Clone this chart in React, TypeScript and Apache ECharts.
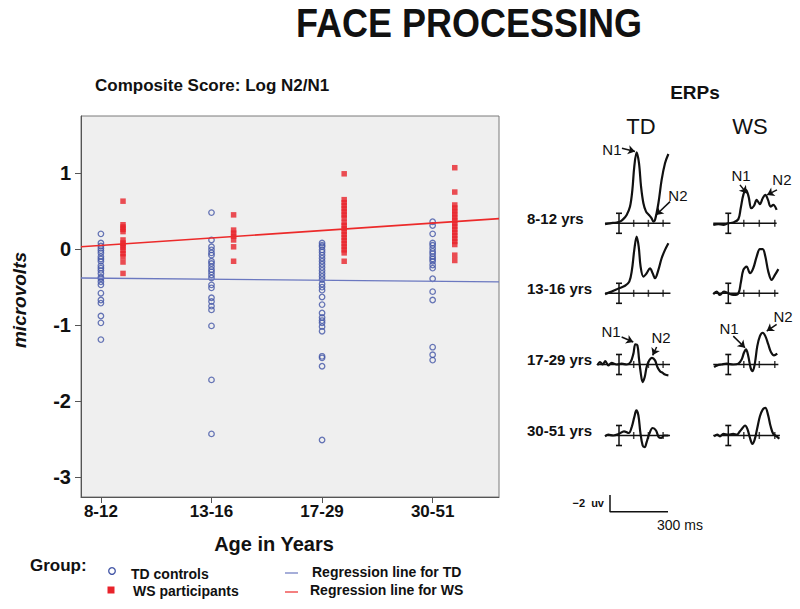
import React, { useEffect, useRef } from 'react';
import * as echarts from 'echarts';

// ---------- Scatter data (Composite Score: Log N2/N1) ----------
const AGE_GROUPS = ['8-12', '13-16', '17-29', '30-51'];
const Y_TICKS = [-3, -2, -1, 0, 1];
const X_TICKS = [1, 2, 3, 4];

const TD_8_12 = [0.2, 0.08, 0.04, 0.01, -0.02, -0.05, -0.1, -0.13, -0.16, -0.22, -0.25, -0.28, -0.32, -0.37, -0.39, -0.43, -0.47, -0.58, -0.67, -0.71, -0.88, -0.97, -1.19];
const TD_13_16 = [0.48, 0.12, 0.03, -0.01, -0.05, -0.08, -0.16, -0.19, -0.23, -0.27, -0.3, -0.34, -0.38, -0.47, -0.51, -0.64, -0.69, -0.75, -0.8, -1.01, -1.72, -2.43];
const TD_17_29 = [0.08, 0.05, 0.03, -0.01, -0.04, -0.08, -0.12, -0.16, -0.2, -0.24, -0.28, -0.32, -0.36, -0.4, -0.46, -0.5, -0.54, -0.63, -0.73, -0.84, -0.9, -0.94, -0.97, -1.02, -1.08, -1.41, -1.43, -1.54, -2.51];
const TD_30_51 = [0.36, 0.31, 0.2, 0.08, 0.05, 0.01, -0.03, -0.06, -0.1, -0.13, -0.16, -0.21, -0.25, -0.39, -0.56, -0.67, -1.29, -1.39, -1.46];

const WS_8_12 = [0.63, 0.32, 0.29, 0.26, 0.23, 0.12, 0.08, 0.05, 0.02, -0.02, -0.06, -0.1, -0.17, -0.32];
const WS_13_16 = [0.45, 0.25, 0.21, 0.17, 0.12, 0.03, -0.16];
const WS_17_29 = [0.99, 0.65, 0.61, 0.57, 0.53, 0.49, 0.45, 0.41, 0.35, 0.31, 0.27, 0.23, 0.19, 0.15, 0.11, 0.07, 0.03, -0.01, -0.05, -0.16];
const WS_30_51 = [1.07, 0.75, 0.58, 0.54, 0.5, 0.46, 0.42, 0.38, 0.34, 0.3, 0.26, 0.22, 0.18, 0.14, 0.1, 0.06, -0.08, -0.15];

const TD_SCORES = [TD_8_12, TD_13_16, TD_17_29, TD_30_51];
const WS_SCORES = [WS_8_12, WS_13_16, WS_17_29, WS_30_51];

// regression lines (value at left and right edge of the plot)
const REG_X = [0.82, 4.6];
const REG_TD = [-0.38, -0.43];
const REG_WS = [0.03, 0.4];

// ---------- ERP waveforms: [ms, µV] (negative plotted up) ----------
const ERP_ROWS = ['8-12 yrs', '13-16 yrs', '17-29 yrs', '30-51 yrs'];
const ERP_TICKS_MS = [100, 200, 300];
const ONSET_BAR_UV = 1.2;
const CAL_UV = 2;
const CAL_MS = 300;

const TD_WAVE_8_12 = [[-95, 0.1], [-61, 0], [-16, -0.1], [7, -0.2], [29, -0.5], [52, -1.0], [75, -2.0], [91, -4.0], [104, -6.8], [120, -8.5], [136, -7.2], [150, -4.4], [166, -2.4], [184, -1.4], [204, -1.0], [222, -0.6], [234, -0.2], [245, -0.4], [268, -2.4], [290, -5.2], [313, -7.2], [336, -8.3]];
const TD_WAVE_13_16 = [[-95, 0.1], [-50, -0.2], [0, -0.6], [41, -0.9], [70, -1.4], [88, -2.8], [104, -5.2], [120, -6.8], [134, -5.6], [147, -3.2], [166, -2.0], [188, -2.4], [211, -3.0], [229, -2.4], [245, -1.8], [268, -2.8], [290, -4.2], [313, -5.2], [336, -6.0]];
const TD_WAVE_17_29 = [[-147, 0.1], [-129, -0.3], [-111, 0], [-93, -0.4], [-73, 0.1], [-50, -0.2], [-16, 0], [18, -0.1], [52, 0], [79, -0.3], [98, -1.3], [111, -2.4], [125, -2.3], [136, -0.7], [147, 0.9], [161, 2.1], [175, 1.5], [188, 0.3], [206, -0.5], [224, -0.8], [245, -0.5], [261, 0.3], [279, 0.8], [297, 1.0], [313, 1.2], [336, 1.3]];
const TD_WAVE_30_51 = [[-95, 0.1], [-73, -0.1], [-39, 0], [0, -0.2], [34, -0.5], [66, -0.3], [88, -1.1], [104, -2.2], [118, -3.0], [132, -2.4], [145, -0.4], [161, 1.2], [175, 1.4], [188, 0.8], [206, -0.2], [229, -0.9], [252, -0.6], [270, 0.2], [288, 0.3], [306, 0], [336, 0]];

const WS_WAVE_8_12 = [[-97, 0.2], [-65, 0.1], [-32, 0.2], [0, 0], [32, -0.1], [65, -0.5], [80, -1.8], [97, -3.4], [114, -4.0], [131, -3.2], [148, -1.8], [166, -2.1], [183, -2.8], [204, -2.3], [222, -3.0], [239, -3.4], [256, -2.8], [273, -2.0], [290, -2.2], [312, -1.6]];
const WS_WAVE_13_16 = [[-97, 0.1], [-75, -0.2], [-54, 0.2], [-28, -0.2], [0, 0], [32, 0.2], [65, 0], [80, -1.2], [97, -2.8], [118, -3.2], [140, -2.4], [161, -3.0], [183, -4.4], [204, -5.3], [222, -5.3], [239, -4.4], [258, -2.6], [280, -1.6], [301, -2.2], [323, -2.9]];
const WS_WAVE_17_29 = [[-92, 0.3], [-71, 0.1], [-43, 0], [-11, -0.1], [32, 0], [65, -0.1], [86, -0.6], [101, -1.4], [114, -1.8], [129, -1.0], [144, 0.4], [157, 0.8], [172, -0.2], [187, -2.2], [204, -3.4], [222, -3.8], [239, -3.4], [258, -2.4], [275, -1.5], [295, -1.1], [316, -1.3]];
const WS_WAVE_30_51 = [[-92, 0.1], [-71, -0.1], [-54, 0.1], [-32, -0.2], [0, -0.1], [32, -0.2], [54, -0.1], [75, -0.5], [92, -0.9], [108, -1.2], [123, -0.8], [140, 0.3], [155, 1.0], [170, 0.5], [187, -0.9], [204, -2.3], [222, -3.1], [239, -3.3], [256, -2.5], [273, -1.1], [290, -0.2], [312, 0.1], [329, 0.4]];

const TD_WAVES = [TD_WAVE_8_12, TD_WAVE_13_16, TD_WAVE_17_29, TD_WAVE_30_51];
const WS_WAVES = [WS_WAVE_8_12, WS_WAVE_13_16, WS_WAVE_17_29, WS_WAVE_30_51];

// baseline time extents per panel
const TD_BASE_MS = [[-95, 350], [-95, 350], [-150, 347], [-95, 347]];
const WS_BASE_MS = [[-97, 312], [-97, 323], [-97, 323], [-97, 333]];

// N1 / N2 annotations: label point, arrow from -> to  ([ms, µV])
const TD_ANNOT = [
  [
    { label: 'N1', at: [-48, -8.8], from: [20, -9.0], to: [109, -8.6] },
    { label: 'N2', at: [401, -3.3], from: [347, -2.6], to: [252, -1.0] },
  ],
  [],
  [
    { label: 'N1', at: [-54, -4.0], from: [18, -3.3], to: [97, -2.7] },
    { label: 'N2', at: [286, -3.2], from: [256, -2.1], to: [229, -1.1] },
  ],
  [],
];
const WS_ANNOT = [
  [
    { label: 'N1', at: [82, -5.7], from: [75, -4.6], to: [119, -3.6] },
    { label: 'N2', at: [346, -5.3], from: [314, -4.0], to: [250, -3.4] },
  ],
  [],
  [
    { label: 'N1', at: [5, -4.3], from: [32, -3.4], to: [108, -2.0] },
    { label: 'N2', at: [353, -5.7], from: [312, -4.8], to: [248, -4.0] },
  ],
  [],
];

// ---------- Layout / style ----------
const FONT = '"Liberation Sans", Arial, Helvetica, sans-serif';
const BLUE = '#4255a6';
const RED = '#e8232b';
const BLUE_LINE = '#6b78c0';
const RED_LINE = '#ec2a2a';
const INK = '#111';
const WS_OFFSET = 0.2;

const ERP = {
  onsetX: [619, 728.3],
  pxPerMs: [0.147, 0.155],
  pxPerUv: 8.35,
  baselineY: [223.3, 293.3, 364.5, 435.5],
  tRange: [-200, 450],
  uvRange: [-10, 3],
};

function buildOption() {
  const grids: any[] = [
    {
      left: 81, top: 116, width: 418, height: 381,
      show: true, backgroundColor: '#efefef', borderColor: '#7a7a7a', borderWidth: 1,
    },
  ];
  const xAxes: any[] = [
    {
      gridIndex: 0, type: 'value', min: REG_X[0], max: REG_X[1],
      axisLine: { show: true, onZero: false, lineStyle: { color: '#555', width: 1 } },
      axisTick: { show: true, customValues: X_TICKS, length: 6, lineStyle: { color: '#555' } },
      axisLabel: {
        customValues: X_TICKS, formatter: (v: number) => AGE_GROUPS[Math.round(v) - 1],
        fontSize: 17, fontWeight: 'bold', color: INK, fontFamily: FONT, margin: 6,
      },
      splitLine: { show: false },
    },
  ];
  const yAxes: any[] = [
    {
      gridIndex: 0, type: 'value', min: -3.26, max: 1.75,
      axisLine: { show: true, lineStyle: { color: '#555', width: 1 } },
      axisTick: { show: true, customValues: Y_TICKS, length: 6, lineStyle: { color: '#555' } },
      axisLabel: {
        customValues: Y_TICKS, fontSize: 20, fontWeight: 'bold', color: INK, fontFamily: FONT, margin: 10,
      },
      splitLine: { show: false },
    },
  ];

  const tdPoints: number[][] = [];
  TD_SCORES.forEach((vals, i) => vals.forEach((v) => tdPoints.push([X_TICKS[i], v])));
  const wsPoints: number[][] = [];
  WS_SCORES.forEach((vals, i) => vals.forEach((v) => wsPoints.push([X_TICKS[i] + WS_OFFSET, v])));

  const series: any[] = [
    {
      type: 'scatter', name: 'TD controls', xAxisIndex: 0, yAxisIndex: 0, data: tdPoints,
      symbol: 'circle', symbolSize: 5.5,
      itemStyle: { color: 'rgba(0,0,0,0)', borderColor: BLUE, borderWidth: 1.3 },
    },
    {
      type: 'scatter', name: 'WS participants', xAxisIndex: 0, yAxisIndex: 0, data: wsPoints,
      symbol: 'rect', symbolSize: 5.5, itemStyle: { color: RED },
    },
    {
      type: 'line', name: 'Regression line for TD', xAxisIndex: 0, yAxisIndex: 0,
      data: REG_X.map((x, i) => [x, REG_TD[i]]), symbol: 'none',
      lineStyle: { color: BLUE_LINE, width: 1.3 },
    },
    {
      type: 'line', name: 'Regression line for WS', xAxisIndex: 0, yAxisIndex: 0,
      data: REG_X.map((x, i) => [x, REG_WS[i]]), symbol: 'none',
      lineStyle: { color: RED_LINE, width: 1.6 },
    },
  ];

  const addPanel = (col: number, row: number, wave: number[][], base: number[], annots: any[]) => {
    const idx = grids.length;
    const ppm = ERP.pxPerMs[col];
    const onset = ERP.onsetX[col];
    const by = ERP.baselineY[row];
    grids.push({
      left: onset + ERP.tRange[0] * ppm,
      width: (ERP.tRange[1] - ERP.tRange[0]) * ppm,
      top: by + ERP.uvRange[0] * ERP.pxPerUv,
      height: (ERP.uvRange[1] - ERP.uvRange[0]) * ERP.pxPerUv,
    });
    xAxes.push({ gridIndex: idx, type: 'value', min: ERP.tRange[0], max: ERP.tRange[1], show: false });
    yAxes.push({ gridIndex: idx, type: 'value', min: ERP.uvRange[0], max: ERP.uvRange[1], inverse: true, show: false });
    series.push({
      type: 'line', xAxisIndex: idx, yAxisIndex: idx, data: [[base[0], 0], [base[1], 0]],
      symbol: 'none', lineStyle: { color: INK, width: 1.5 }, silent: true,
    });
    series.push({
      type: 'scatter', xAxisIndex: idx, yAxisIndex: idx, data: ERP_TICKS_MS.map((t) => [t, 0]),
      symbol: 'rect', symbolSize: [1.5, 7], itemStyle: { color: INK }, silent: true,
    });
    series.push({
      type: 'line', xAxisIndex: idx, yAxisIndex: idx, data: [[0, -ONSET_BAR_UV], [0, ONSET_BAR_UV]],
      symbol: 'rect', symbolSize: [6, 1.6], showSymbol: true,
      itemStyle: { color: INK }, lineStyle: { color: INK, width: 1.5 }, silent: true,
    });
    series.push({
      type: 'line', xAxisIndex: idx, yAxisIndex: idx, data: wave, symbol: 'none', smooth: 0.35,
      lineStyle: { color: INK, width: 2.2 }, clip: false, silent: true,
      markLine: annots.length ? {
        silent: true, symbol: ['none', 'arrow'], symbolSize: 7,
        lineStyle: { color: INK, width: 1.5, type: 'solid' }, label: { show: false },
        data: annots.map((a) => [{ coord: a.from }, { coord: a.to }]),
      } : undefined,
      markPoint: annots.length ? {
        silent: true, symbol: 'circle', symbolSize: 1, itemStyle: { color: 'rgba(0,0,0,0)' },
        label: { show: true, position: 'inside', formatter: (p: any) => p.name, fontSize: 15, color: INK, fontFamily: FONT },
        data: annots.map((a) => ({ name: a.label, coord: a.at })),
      } : undefined,
    });
  };

  for (let r = 0; r < 4; r++) {
    addPanel(0, r, TD_WAVES[r], TD_BASE_MS[r], TD_ANNOT[r]);
    addPanel(1, r, WS_WAVES[r], WS_BASE_MS[r], WS_ANNOT[r]);
  }

  // calibration bar
  const calIdx = grids.length;
  grids.push({ left: 610, top: 495, width: 58, height: 16.7 });
  xAxes.push({ gridIndex: calIdx, type: 'value', min: 0, max: CAL_MS, show: false });
  yAxes.push({ gridIndex: calIdx, type: 'value', min: -CAL_UV, max: 0, inverse: true, show: false });
  series.push({
    type: 'line', xAxisIndex: calIdx, yAxisIndex: calIdx,
    data: [[0, -CAL_UV], [0, 0], [CAL_MS, 0]], symbol: 'none', clip: false,
    lineStyle: { color: INK, width: 1.5 }, silent: true,
  });

  const txt = (text: string, x: number, y: number, size: number, extra: any = {}, styleExtra: any = {}) => ({
    type: 'text', x, y, silent: true, ...extra,
    style: {
      text, fontSize: size, fontFamily: FONT, fill: INK,
      align: 'left', verticalAlign: 'middle', ...styleExtra,
    },
  });

  const graphic: any[] = [
    txt('FACE PROCESSING', 469, 23, 36, { scaleY: 1.12 }, { fontWeight: 'bold', align: 'center' }),
    txt('Composite Score: Log N2/N1', 95, 85, 17, {}, { fontWeight: 'bold' }),
    txt('microvolts', 19, 300, 19, { rotation: Math.PI / 2 }, { fontStyle: 'italic', fontWeight: 'bold', align: 'center' }),
    txt('Age in Years', 274, 544, 20, {}, { fontWeight: 'bold', align: 'center' }),
    // legend
    txt('Group:', 30, 565, 17, {}, { fontWeight: 'bold' }),
    { type: 'circle', shape: { cx: 112, cy: 571, r: 3.3 }, style: { fill: 'none', stroke: BLUE, lineWidth: 1.3 }, silent: true },
    txt('TD controls', 131, 574, 14, {}, { fontWeight: 'bold' }),
    { type: 'rect', shape: { x: 107.5, y: 586.5, width: 7, height: 7 }, style: { fill: RED }, silent: true },
    txt('WS participants', 133, 591, 14, {}, { fontWeight: 'bold' }),
    { type: 'line', shape: { x1: 285, y1: 573, x2: 298, y2: 573 }, style: { stroke: BLUE_LINE, lineWidth: 1.2 }, silent: true },
    txt('Regression line for TD', 312, 572, 14, {}, { fontWeight: 'bold' }),
    { type: 'line', shape: { x1: 285, y1: 592, x2: 298, y2: 592 }, style: { stroke: RED_LINE, lineWidth: 1.2 }, silent: true },
    txt('Regression line for WS', 310, 590, 14, {}, { fontWeight: 'bold' }),
    // ERP headers
    txt('ERPs', 695, 92, 19, {}, { fontWeight: 'bold', align: 'center' }),
    txt('TD', 641, 126, 22, {}, { align: 'center' }),
    txt('WS', 750, 126, 22, {}, { align: 'center' }),
    ...ERP_ROWS.map((r, i) => txt(r, 527, ERP.baselineY[i] - 5, 15, {}, { fontWeight: 'bold' })),
    txt('\u22122  uv', 604, 503, 11, {}, { fontWeight: 'bold', align: 'right' }),
    txt('300 ms', 657, 525, 14, {}, {}),
  ];

  return {
    animation: false,
    backgroundColor: '#ffffff',
    textStyle: { fontFamily: FONT },
    grid: grids,
    xAxis: xAxes,
    yAxis: yAxes,
    series,
    graphic,
  };
}

export default function App() {
  const ref = useRef<HTMLDivElement>(null);
  useEffect(() => {
    if (!ref.current) return;
    const chart = echarts.init(ref.current, null, { renderer: 'svg' });
    chart.setOption(buildOption() as any);
    return () => chart.dispose();
  }, []);
  return (
    <div
      ref={ref}
      style={{ position: 'absolute', left: 0, top: 0, width: 800, height: 609, background: '#fff' }}
    />
  );
}
